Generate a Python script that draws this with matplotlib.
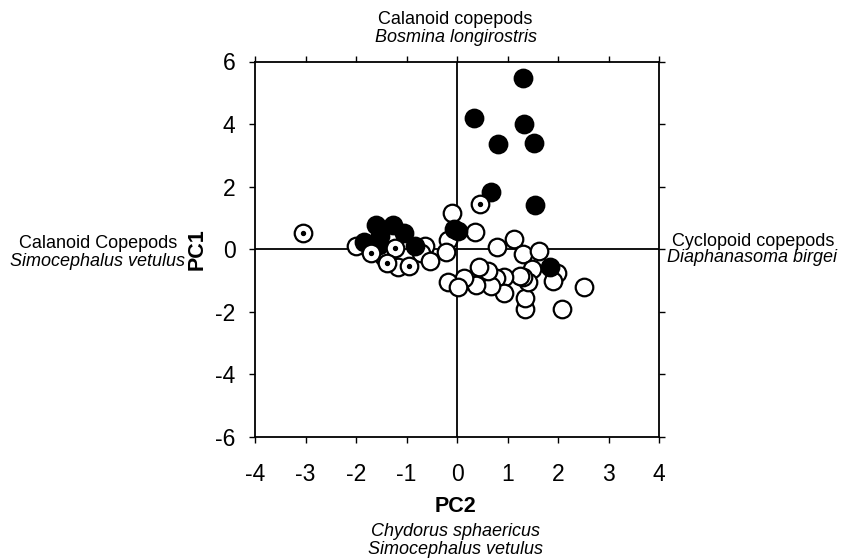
#!/usr/bin/env python3
"""PCA scatter: PC2 vs PC1 with species annotations."""

import matplotlib.pyplot as plt

plt.rcParams["font.family"] = ["Liberation Sans", "DejaVu Sans"]

# filled circles
filled_x = [1.30, 0.34, 1.33, 0.82, 1.52, 0.68, 1.54, -0.05, 0.02, 1.84,
            -1.60, -1.27, -1.04, -1.84, -1.52, -1.55, -0.83]
filled_y = [5.47, 4.19, 4.01, 3.37, 3.41, 1.84, 1.43, 0.66, 0.58, -0.58,
            0.79, 0.79, 0.53, 0.22, 0.42, 0.13, 0.09]

# open circles with a centre dot
dotted_x = [-3.04, 0.46, -1.70, -1.23, -1.38, -0.96]
dotted_y = [0.51, 1.45, -0.12, 0.04, -0.45, -0.53]

# open circles
open_x = [-0.09, 0.36, -0.17, -0.22, -2.00, -0.63, -0.72, -0.53, -1.16,
          -1.45, 0.79, 1.13, 1.31, 1.63, 1.48, 1.99, 1.91, 2.52, 2.07,
          1.35, 1.35, 1.41, 1.30, 1.25, 0.93, 0.77, 0.93, 0.67, 0.62,
          0.43, 0.38, 0.13, -0.17, 0.01]
open_y = [1.15, 0.56, 0.29, -0.08, 0.09, 0.11, -0.12, -0.37, -0.58,
          -0.25, 0.06, 0.32, -0.15, -0.07, -0.62, -0.76, -1.03, -1.22, -1.92,
          -1.90, -1.56, -1.04, -0.88, -0.85, -0.88, -0.91, -1.39, -1.18, -0.70,
          -0.57, -1.15, -0.91, -1.04, -1.22]

ticks_x = [-4, -3, -2, -1, 0, 1, 2, 3, 4]
ticks_y = [-6, -4, -2, 0, 2, 4, 6]

W, H = 846, 560
fig = plt.figure(figsize=(W / 100, H / 100), dpi=100)
ax = fig.add_axes([255 / W, 1 - 437 / H, 404 / W, 375.5 / H])

ax.axhline(0, color="black", lw=1.3, zorder=1)
ax.axvline(0, color="black", lw=1.3, zorder=1)

size = 160
ax.scatter(open_x, open_y, s=size, facecolor="white", edgecolor="black",
           linewidths=1.6, zorder=2)
ax.scatter(filled_x, filled_y, s=size, facecolor="black", edgecolor="black",
           linewidths=1.6, zorder=3)
ax.scatter(dotted_x, dotted_y, s=size, facecolor="white", edgecolor="black",
           linewidths=1.6, zorder=4)
ax.scatter(dotted_x, dotted_y, s=8, color="black", zorder=5)

ax.set_xlim(-4, 4)
ax.set_ylim(-6, 6)
ax.set_xticks(ticks_x)
ax.set_yticks(ticks_y)
ax.set_xticklabels([str(t) for t in ticks_x])
ax.set_yticklabels([str(t) for t in ticks_y])
for s in ax.spines.values():
    s.set_linewidth(1.3)
ax.tick_params(direction="out", length=4, width=1.0, labelsize=16.5,
               top=True, right=True)
ax.tick_params(axis="x", pad=15)
ax.tick_params(axis="y", pad=10)


def ftext(x, y, s, **kw):
    fig.text(x / W, 1 - y / H, s, ha="center", va="center", **kw)


ftext(455, 507, "PC2", fontsize=15.5, fontweight="bold")
ftext(197, 249, "PC1", fontsize=15.5, fontweight="bold", rotation=90)

ftext(455, 20, "Calanoid copepods", fontsize=13)
ftext(456, 38, "Bosmina longirostris", fontsize=13, style="italic")
ftext(98, 244, "Calanoid Copepods", fontsize=13)
ftext(97, 261, "Simocephalus vetulus", fontsize=13, style="italic")
ftext(753, 241, "Cyclopoid copepods", fontsize=13)
ftext(752, 258, "Diaphanasoma birgei", fontsize=13, style="italic")
ftext(455, 531, "Chydorus sphaericus", fontsize=13, style="italic")
ftext(455, 549, "Simocephalus vetulus", fontsize=13, style="italic")

fig.savefig("out.png", dpi=100)
